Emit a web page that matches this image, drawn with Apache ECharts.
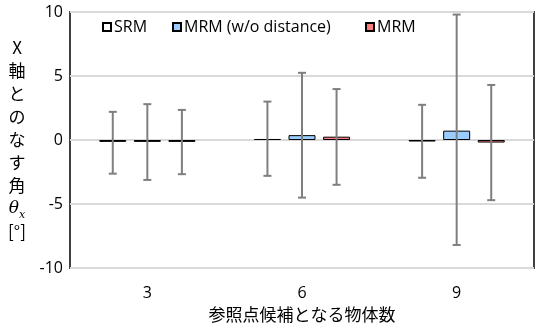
<!DOCTYPE html>
<html>
<head>
<meta charset="utf-8">
<script src="https://cdn.jsdelivr.net/npm/echarts@6/dist/echarts.min.js"></script>
<style>
  html, body { margin: 0; padding: 0; background: #fff; }
  #chart { width: 536px; height: 329px; }
</style>
</head>
<body>
<div id="chart"></div>
<script>
// 参照点候補となる物体数
var categories = ["3", "6", "9"];
var seriesNames = ["SRM", "MRM (w/o distance)", "MRM"];

// 平均値
var srmMean = [-0.15, 0.08, -0.12];
var mrmNoDistMean = [-0.15, 0.38, 0.73];
var mrmMean = [-0.15, 0.26, -0.2];

// エラーバー上端・下端
var srmHigh = [2.2, 3.0, 2.75];
var srmLow = [-2.63, -2.8, -2.95];
var mrmNoDistHigh = [2.8, 5.25, 9.8];
var mrmNoDistLow = [-3.12, -4.5, -8.2];
var mrmHigh = [2.35, 3.98, 4.3];
var mrmLow = [-2.67, -3.5, -4.7];

var yTicks = [-10, -5, 0, 5, 10];

var barW = 27;
var barGapRatio = 0.28;
var fontFam = "'Open Sans', 'Noto Sans CJK JP', sans-serif";

function errSeries(idx, high, low) {
  var data = [];
  for (var i = 0; i < categories.length; i++) {
    data.push([i, low[i], high[i]]);
  }
  return {
    type: "custom",
    z: 10,
    silent: true,
    data: data,
    renderItem: function (params, api) {
      var off = (idx - 1) * barW * (1 + barGapRatio);
      var top = api.coord([api.value(0), api.value(2)]);
      var bot = api.coord([api.value(0), api.value(1)]);
      var x = top[0] + off;
      var st = { stroke: "#7f7f7f", lineWidth: 2 };
      return {
        type: "group",
        children: [
          { type: "line", shape: { x1: x, y1: top[1], x2: x, y2: bot[1] }, style: st },
          { type: "line", shape: { x1: x - 4, y1: top[1], x2: x + 4, y2: top[1] }, style: st },
          { type: "line", shape: { x1: x - 4, y1: bot[1], x2: x + 4, y2: bot[1] }, style: st }
        ]
      };
    }
  };
}

// 凡例は項目ごとに配置
function legendAt(name, left) {
  return {
    left: left,
    top: 14,
    icon: "rect",
    itemWidth: 8,
    itemHeight: 8,
    data: [name],
    textStyle: { fontSize: 16, color: "#000", padding: [0, 0, 0, -2] }
  };
}

var myChart = echarts.init(document.getElementById("chart"));
var option = {
  animation: false,
  textStyle: { fontFamily: fontFam },
  grid: {
    left: 70,
    right: 2,
    top: 12,
    bottom: 61,
    show: true,
    borderColor: "#404040",
    borderWidth: 2,
    backgroundColor: "transparent"
  },
  legend: [
    legendAt(seriesNames[0], 97),
    legendAt(seriesNames[1], 167),
    legendAt(seriesNames[2], 360)
  ],
  xAxis: {
    type: "category",
    data: categories,
    axisLine: { show: false, onZero: false },
    axisTick: { show: false },
    axisLabel: { fontSize: 16, color: "#000", margin: 17 },
    name: "参照点候補となる物体数",
    nameLocation: "middle",
    nameGap: 38,
    nameTextStyle: { fontSize: 17, color: "#000", fontFamily: "'Noto Sans CJK JP', sans-serif" }
  },
  yAxis: {
    type: "value",
    min: yTicks[0],
    max: yTicks[yTicks.length - 1],
    interval: 5,
    axisLine: { show: false },
    axisTick: { show: false },
    splitLine: { lineStyle: { color: "#d9d9d9", width: 2 } },
    axisLabel: { fontSize: 16, color: "#000", margin: 7 },
    name: "X\n軸\nと\nの\nな\nす\n角\n{i|θ}{s|x}\n[°]",
    nameLocation: "middle",
    nameRotate: 0,
    nameGap: 53,
    nameTextStyle: {
      fontSize: 17,
      color: "#000",
      lineHeight: 23,
      align: "center",
      fontFamily: "'Noto Sans CJK JP', sans-serif",
      rich: {
        i: { fontSize: 17, fontStyle: "italic", fontFamily: "'DejaVu Serif', serif", lineHeight: 23 },
        s: { fontSize: 11, fontStyle: "italic", fontFamily: "'DejaVu Serif', serif", verticalAlign: "bottom", lineHeight: 23 }
      }
    }
  },
  series: [
    {
      name: seriesNames[0],
      type: "bar",
      data: srmMean,
      barWidth: barW,
      barGap: barGapRatio * 100 + "%",
      itemStyle: { color: "#ffffff", borderColor: "#000", borderWidth: 1 }
    },
    {
      name: seriesNames[1],
      type: "bar",
      data: mrmNoDistMean,
      barWidth: barW,
      barGap: barGapRatio * 100 + "%",
      itemStyle: { color: "#99ccff", borderColor: "#000", borderWidth: 1 }
    },
    {
      name: seriesNames[2],
      type: "bar",
      data: mrmMean,
      barWidth: barW,
      barGap: barGapRatio * 100 + "%",
      itemStyle: { color: "#ff7c80", borderColor: "#000", borderWidth: 1 }
    },
    errSeries(0, srmHigh, srmLow),
    errSeries(1, mrmNoDistHigh, mrmNoDistLow),
    errSeries(2, mrmHigh, mrmLow)
  ]
};
myChart.setOption(option);
window.addEventListener("resize", () => {
  myChart.resize();
});
</script>
</body>
</html>
